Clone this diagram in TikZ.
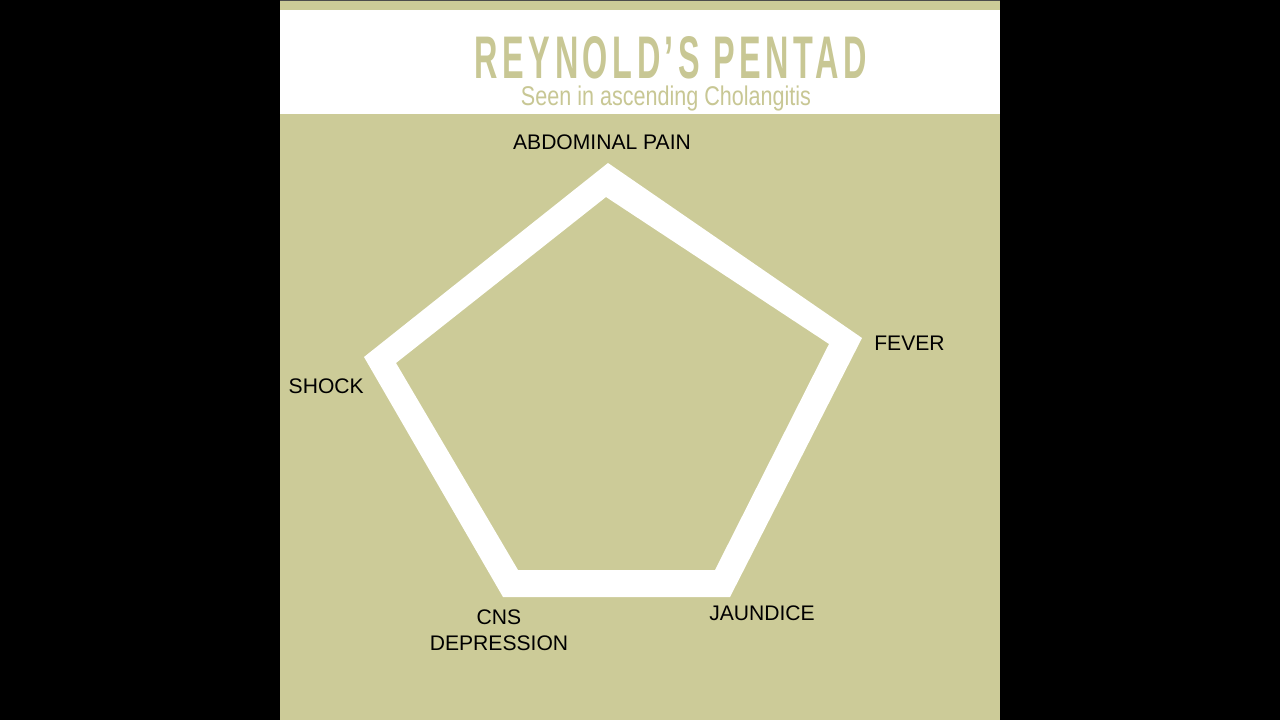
\documentclass[tikz,border=0pt]{standalone}
\usepackage{graphicx}
\usepackage{fontspec}
\setmainfont{Liberation Sans}
\newfontfamily\pentadfont[LetterSpace=14]{Liberation Sans}
\definecolor{pentadolive}{HTML}{CCCB98}
\definecolor{pentadtitle}{HTML}{C8C794}

\begin{document}
\begin{tikzpicture}[x=0.025cm, y=-0.025cm]
	\useasboundingbox (0,0) rectangle (1280,720);
	\fill[black] (0,0) rectangle (1280,720);
	\fill[pentadolive] (280,0) rectangle (1000,720); \fill[white] (280,10) rectangle (1000,114);
	\draw[black!70, line width=1pt] (280,0.6) -- (1000,0.6);
	% corners of the pentagon band, outer and inner
	\coordinate (abdo) at (608,163); \coordinate (fevo) at (862,338); \coordinate (jauo) at (730,597); \coordinate (cnso) at (503,597); \coordinate (shoo) at (364,357);
	\coordinate (abdi) at (606,197); \coordinate (fevi) at (829,344); \coordinate (jaui) at (715,570); \coordinate (cnsi) at (518,570); \coordinate (shoi) at (396,363);
	\fill[white, even odd rule] (abdo) -- (fevo) -- (jauo) -- (cnso) -- (shoo) -- cycle (abdi) -- (fevi) -- (jaui) -- (cnsi) -- (shoi) -- cycle;
	\tikzstyle{every node} = [inner sep=0pt, text=pentadtitle]
	\node (title) at (671,58) {\resizebox{9.8cm}{1.05cm}{\pentadfont\bfseries REYNOLD’S PENTAD}};
	\node[anchor=base] (subtitle) at (666,105.5) {\resizebox{7.25cm}{0.49cm}{Seen in ascending Cholangitis}};
	\tikzstyle{every node} = [inner sep=0pt, text=black, font=\fontsize{15}{18.5}\selectfont]
	\node[anchor=base] (abd) at (602,150) {ABDOMINAL PAIN}; \node[anchor=base west] (fev) at (874,351) {FEVER}; \node[anchor=base east] (sho) at (364,394) {SHOCK};
	\node[anchor=base west] (jau) at (709,620) {JAUNDICE}; \node[anchor=north, align=center] (cns) at (499,609) {CNS\\DEPRESSION};
\end{tikzpicture}
\end{document}
